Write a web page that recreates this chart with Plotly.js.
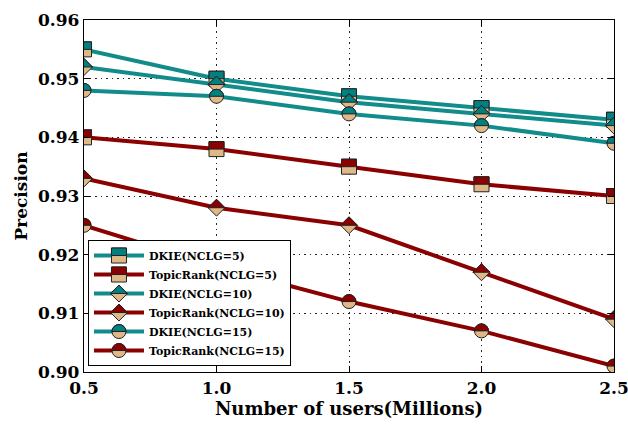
<!DOCTYPE html>
<html>
<head>
<meta charset="utf-8">
<script src="https://cdn.plot.ly/plotly-3.0.1.min.js"></script>
<style>html,body{margin:0;padding:0;background:#fff;}#chart{width:628px;height:426px;}</style>
</head>
<body>
<div id="chart"></div>
<script>
const users = [0.5, 1.0, 1.5, 2.0, 2.5];
const dkie5 = [0.955, 0.950, 0.947, 0.945, 0.943];
const topic5 = [0.940, 0.938, 0.935, 0.932, 0.930];
const dkie10 = [0.952, 0.949, 0.946, 0.944, 0.942];
const topic10 = [0.933, 0.928, 0.925, 0.917, 0.909];
const dkie15 = [0.948, 0.947, 0.944, 0.942, 0.939];
const topic15 = [0.925, 0.918, 0.912, 0.907, 0.901];
const seriesNames = ['DKIE(NCLG=5)', 'TopicRank(NCLG=5)', 'DKIE(NCLG=10)', 'TopicRank(NCLG=10)', 'DKIE(NCLG=15)', 'TopicRank(NCLG=15)'];
const xTicks = [0.5, 1.0, 1.5, 2.0, 2.5];
const yTicks = [0.90, 0.91, 0.92, 0.93, 0.94, 0.95, 0.96];

const TEAL = '#008080', RED = '#8B0000', TAN = '#DEB887';
const LINE_TEAL = '#128b8b';
const seriesData = [dkie5, topic5, dkie10, topic10, dkie15, topic15];
const colors = [TEAL, RED, TEAL, RED, TEAL, RED];
const lineColors = [LINE_TEAL, RED, LINE_TEAL, RED, LINE_TEAL, RED];
const shapes = ['square', 'square', 'diamond', 'diamond', 'circle', 'circle'];
const sizes = [15, 15, 13, 13, 14, 14];

const traces = seriesData.map((ys, i) => ({
  x: users, y: ys, name: seriesNames[i], type: 'scatter', mode: 'lines+markers',
  line: {color: lineColors[i], width: 4},
  marker: {symbol: shapes[i], size: sizes[i], color: TAN, line: {color: '#222', width: 1}}
}));

const tickFont = {family: 'DejaVu Serif', size: 17, color: '#000', weight: 'bold'};
const layout = {
  width: 628, height: 426,
  margin: {l: 84, r: 14, t: 20, b: 54},
  paper_bgcolor: '#fff', plot_bgcolor: '#fff',
  showlegend: true,
  legend: {x: 0.0075, y: 0.017, xanchor: 'left', yanchor: 'bottom', bgcolor: '#fff',
    bordercolor: '#000', borderwidth: 1, itemwidth: 50, tracegroupgap: 0,
    font: {family: 'DejaVu Serif', size: 11, color: '#000', weight: 'bold'}},
  xaxis: {range: [0.4999, 2.5001], tickvals: xTicks, ticktext: xTicks.map(v => v.toFixed(1)),
    ticklabeloverflow: 'allow',
    showline: true, linecolor: '#000', linewidth: 1.3, mirror: 'ticks',
    ticks: 'inside', ticklen: 6, tickcolor: '#000', tickwidth: 1,
    showgrid: true, gridcolor: '#222', gridwidth: 1, griddash: '1.5px,4px', zeroline: false,
    tickfont: tickFont,
    title: {text: 'Number of users(Millions)', font: {family: 'DejaVu Serif', size: 18, color: '#000', weight: 'bold'}, standoff: 4}},
  yaxis: {range: [0.89999, 0.96001], tickvals: yTicks, ticktext: yTicks.map(v => v.toFixed(2)),
    ticklabeloverflow: 'allow',
    showline: true, linecolor: '#000', linewidth: 1.3, mirror: 'ticks',
    ticks: 'inside', ticklen: 6, tickcolor: '#000', tickwidth: 1,
    showgrid: true, gridcolor: '#222', gridwidth: 1, griddash: '1.5px,4px', zeroline: false,
    tickfont: tickFont,
    title: {text: 'Precision', font: {family: 'DejaVu Serif', size: 17, color: '#000', weight: 'bold'}, standoff: 6}}
};

function halfPath(shape, h) {
  if (shape === 'square') return 'M' + h + ',0H' + (-h) + 'V' + (-h) + 'H' + h + 'Z';
  if (shape === 'diamond') return 'M' + h + ',0L0,' + (-h) + 'L' + (-h) + ',0Z';
  return 'M' + h + ',0A' + h + ',' + h + ' 0 0,0 ' + (-h) + ',0Z';
}
function addHalves(paths, shape, color) {
  paths.forEach(p => {
    const bb = p.getBBox();
    const h = bb.width / 2;
    const np = document.createElementNS('http://www.w3.org/2000/svg', 'path');
    np.setAttribute('d', halfPath(shape, h));
    const tr = p.getAttribute('transform');
    if (tr) np.setAttribute('transform', tr);
    np.setAttribute('style', 'fill:' + color + ';stroke:#222;stroke-width:1px;');
    p.parentNode.insertBefore(np, p.nextSibling);
  });
}

const gd = document.getElementById('chart');
Plotly.newPlot(gd, traces, layout, {displayModeBar: false, staticPlot: true}).then(() => {
  const trs = gd.querySelectorAll('.scatterlayer .trace');
  trs.forEach((t, i) => addHalves(Array.from(t.querySelectorAll('path.point')), shapes[i], colors[i]));
  const lts = gd.querySelectorAll('.legend .traces');
  lts.forEach((t, i) => addHalves(Array.from(t.querySelectorAll('.legendpoints path.scatterpts')), shapes[i], colors[i]));
});
</script>
</body>
</html>
